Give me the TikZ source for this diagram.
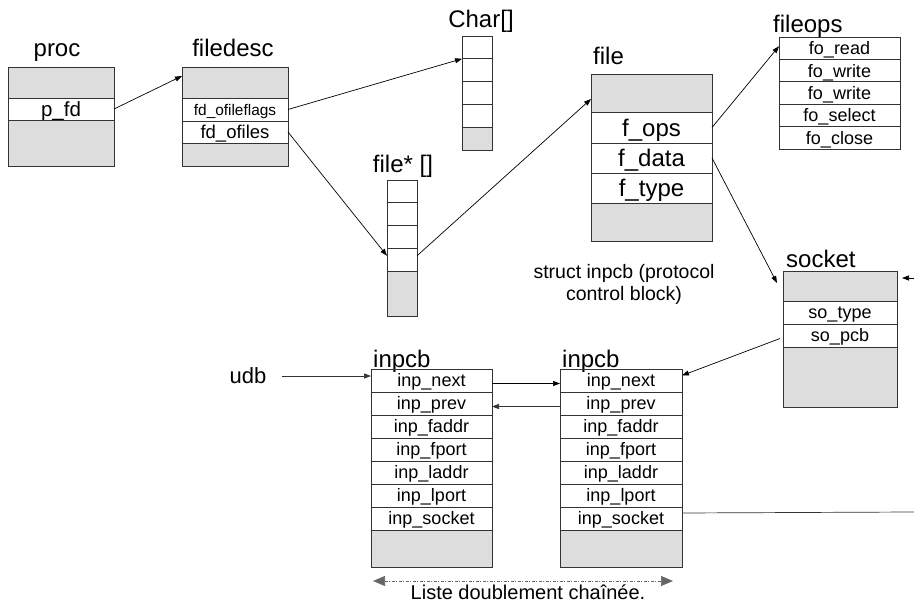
\documentclass[tikz,border=0pt]{standalone}
\usepackage{fontspec}
\setmainfont{Liberation Sans}
\usetikzlibrary{arrows.meta,calc}
\definecolor{boxc}{HTML}{333333}
\definecolor{boxg}{HTML}{DDDDDD}
\tikzset{
  fs/.style={font=\fontsize{#1}{#1}\selectfont, text height=0.72*#1 pt, text depth=0pt},
  cell/.style={draw=boxc, line width=0.8pt, anchor=north west, inner sep=0pt, outer sep=0pt, fs=18},
  gcell/.style={cell, fill=boxg},
  lbl/.style={inner sep=0pt, font=\fontsize{24}{28}\selectfont},
  arr/.style={-{Triangle[length=7pt,width=5pt]}, line width=0.7pt, draw=black},
  ddarr/.style={{Triangle[length=12pt,width=10pt]}-{Triangle[length=12pt,width=10pt]}, line width=0.6pt,
    draw=gray!80!black, dash pattern=on 3pt off 1.5pt on 1pt off 1.5pt}
}
\begin{document}
\begin{tikzpicture}[x=1pt,y=-1pt]
\useasboundingbox (0,0) rectangle (914,604);

% proc
\node[lbl, anchor=base] (lproc) at (57,57) {proc};
\node[gcell, minimum width=106pt, minimum height=31pt] (p1) at (8,67) {};
\node[cell, minimum width=106pt, minimum height=22pt, fs=20.5] (p2) at (8,98) {p\_fd};
\node[gcell, minimum width=106pt, minimum height=46pt] (p3) at (8,120) {};

% filedesc
\node[lbl, anchor=base] (lfd) at (233,57) {filedesc};
\node[gcell, minimum width=106pt, minimum height=31pt] (d1) at (182,67) {};
\node[cell, minimum width=106pt, minimum height=23pt, fs=15.4] (d2) at (182,98) {fd\_ofileflags};
\node[cell, minimum width=106pt, minimum height=22pt, fs=18.5] (d3) at (182,121) {fd\_ofiles};
\node[gcell, minimum width=106pt, minimum height=23pt] (d4) at (182,143) {};

% Char[]
\node[lbl, anchor=base] (lchar) at (481,28) {Char[]};
\node[cell, minimum width=30pt, minimum height=22.8pt] (c1) at (462,36) {};
\node[cell, minimum width=30pt, minimum height=22.8pt] (c2) at (462,58.8) {};
\node[cell, minimum width=30pt, minimum height=22.8pt] (c3) at (462,81.6) {};
\node[cell, minimum width=30pt, minimum height=22.8pt] (c4) at (462,104.4) {};
\node[gcell, minimum width=30pt, minimum height=22.8pt] (c5) at (462,127.2) {};

% file* []
\node[lbl, anchor=base] (lfa) at (403,173) {file* []};
\node[cell, minimum width=30pt, minimum height=22.8pt] (fa1) at (387,180) {};
\node[cell, minimum width=30pt, minimum height=22.8pt] (fa2) at (387,202.8) {};
\node[cell, minimum width=30pt, minimum height=22.8pt] (fa3) at (387,225.6) {};
\node[cell, minimum width=30pt, minimum height=22.8pt] (fa4) at (387,248.4) {};
\node[gcell, minimum width=30pt, minimum height=44.8pt] (fa5) at (387,271.2) {};

% file
\node[lbl, anchor=base west] (lfile) at (593,65) {file};
\node[gcell, minimum width=121pt, minimum height=38pt] (f1) at (591,74) {};
\node[cell, minimum width=121pt, minimum height=31pt, fs=24] (f2) at (591,112) {f\_ops};
\node[cell, minimum width=121pt, minimum height=30pt, fs=24] (f3) at (591,143) {f\_data};
\node[cell, minimum width=121pt, minimum height=30pt, fs=24] (f4) at (591,173) {f\_type};
\node[gcell, minimum width=121pt, minimum height=38pt] (f5) at (591,203) {};

% fileops
\node[lbl, anchor=base west] (lops) at (773,33) {fileops};
\node[cell, minimum width=121pt, minimum height=22.4pt] (o1) at (779,37) {fo\_read};
\node[cell, minimum width=121pt, minimum height=22.4pt] (o2) at (779,59.4) {fo\_write};
\node[cell, minimum width=121pt, minimum height=22.4pt] (o3) at (779,81.8) {fo\_write};
\node[cell, minimum width=121pt, minimum height=22.4pt] (o4) at (779,104.2) {fo\_select};
\node[cell, minimum width=121pt, minimum height=22.4pt] (o5) at (779,126.6) {fo\_close};

% socket
\node[lbl, anchor=base west] (lsock) at (786,268) {socket};
\node[gcell, minimum width=114pt, minimum height=30pt] (s1) at (783,271) {};
\node[cell, minimum width=114pt, minimum height=23pt] (s2) at (783,301) {so\_type};
\node[cell, minimum width=114pt, minimum height=23pt] (s3) at (783,324) {so\_pcb};
\node[gcell, minimum width=114pt, minimum height=60pt] (s4) at (783,347) {};

% struct text
\node[anchor=base, align=center, inner sep=0pt, font=\fontsize{19.5}{22}\selectfont] (ltxt) at (624,301)
  {struct inpcb (protocol\\control block)};

% inpcb 1
\node[lbl, anchor=base west] (la) at (373,367) {inpcb};
\node[cell, minimum width=121pt, minimum height=23pt] (a1) at (371,369) {inp\_next};
\node[cell, minimum width=121pt, minimum height=23pt] (a2) at (371,392) {inp\_prev};
\node[cell, minimum width=121pt, minimum height=23pt] (a3) at (371,415) {inp\_faddr};
\node[cell, minimum width=121pt, minimum height=23pt] (a4) at (371,438) {inp\_fport};
\node[cell, minimum width=121pt, minimum height=23pt] (a5) at (371,461) {inp\_laddr};
\node[cell, minimum width=121pt, minimum height=23pt] (a6) at (371,484) {inp\_lport};
\node[cell, minimum width=121pt, minimum height=23pt] (a7) at (371,507) {inp\_socket};
\node[gcell, minimum width=121pt, minimum height=37pt] (a8) at (371,530) {};

% inpcb 2
\node[lbl, anchor=base west] (lb) at (562,367) {inpcb};
\node[cell, minimum width=122pt, minimum height=23pt] (b1) at (560,369) {inp\_next};
\node[cell, minimum width=122pt, minimum height=23pt] (b2) at (560,392) {inp\_prev};
\node[cell, minimum width=122pt, minimum height=23pt] (b3) at (560,415) {inp\_faddr};
\node[cell, minimum width=122pt, minimum height=23pt] (b4) at (560,438) {inp\_fport};
\node[cell, minimum width=122pt, minimum height=23pt] (b5) at (560,461) {inp\_laddr};
\node[cell, minimum width=122pt, minimum height=23pt] (b6) at (560,484) {inp\_lport};
\node[cell, minimum width=122pt, minimum height=23pt] (b7) at (560,507) {inp\_socket};
\node[gcell, minimum width=122pt, minimum height=37pt] (b8) at (560,530) {};

% udb
\node[inner xsep=15.5pt, inner ysep=0pt, fs=22] (udb) at (248,376) {udb};

% bottom label
\node[anchor=base, inner sep=0pt, font=\fontsize{20}{24}\selectfont] (lliste) at (528,599) {Liste doublement chaînée.};
\coordinate (ll) at (373,581);
\coordinate (lr) at (673,581);
\coordinate (sockin) at (914,278);
\coordinate (sockout) at (914,512);

% connectors
\draw[arr] (p2.east) -- ([yshift=6.5pt]d1.west);
\draw[arr] (d2.east) -- (c2.north west);
\draw[arr] (d3.east) -- ([yshift=4pt]fa4.west);
\draw[arr] ([yshift=4pt]fa4.east) -- ([yshift=-6pt]f1.west);
\draw[arr] (f2.east) -- ([yshift=2pt]o1.west);
\draw[arr] (f3.east) -- ([xshift=-6pt,yshift=3pt]s1.west);
\draw[arr] (sockin) -- ([xshift=5pt,yshift=8pt]s1.east);
\draw[arr] ([xshift=-3pt,yshift=-3pt]s3.west) -- ([yshift=5pt]b1.east);
\draw[arr, draw=boxc] (udb.east) -- (udb.east -| a1.west);
\draw[arr] ([yshift=-3pt]a1.east) -- ([yshift=-3pt]b1.west);
\draw[arr, draw=boxc] ([yshift=-3pt]b2.west) -- ([yshift=-3pt]a2.east);
\draw[line width=0.7pt, draw=boxc] ([yshift=5.5pt]b7.east) -- (sockout);
\draw[ddarr] (ll) -- (lr);
\end{tikzpicture}
\end{document}
